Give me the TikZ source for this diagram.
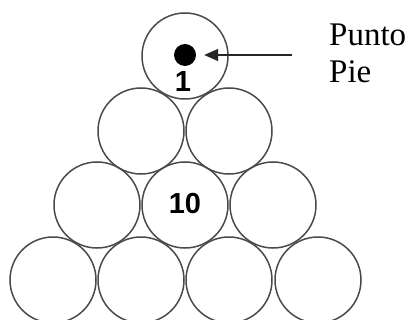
\documentclass[tikz,border=0pt]{standalone}
\usepackage{fontspec}
\setmainfont{Liberation Serif}
\newfontfamily\numfont{Liberation Sans}
\usetikzlibrary{arrows.meta}
\definecolor{ballgray}{HTML}{4A4A4A}
\tikzset{
  ball/.style={circle, draw=ballgray, line width=1.5pt, minimum size=86pt, inner sep=0pt},
  numlbl/.style={font=\numfont\bfseries\fontsize{29}{30}\selectfont, inner sep=0pt},
  side/.style={font=\fontsize{33}{38}\selectfont, anchor=base west, inner sep=0pt}
}
\begin{document}
\begin{tikzpicture}[x=1pt,y=-1pt]
\useasboundingbox (0,0) rectangle (411,320);
\node[ball] (b1) at (185,56) {};
\node[ball] (b2) at (141,131) {};
\node[ball] (b3) at (229,131) {};
\node[ball] (b4) at (97,205) {};
\node[ball] (b5) at (185,205) {};
\node[ball] (b6) at (273,205) {};
\node[ball] (b7) at (53,280) {};
\node[ball] (b8) at (141,280) {};
\node[ball] (b9) at (229,280) {};
\node[ball] (b10) at (318,280) {};
\node[circle, fill=black, minimum size=22pt, inner sep=0pt] (dot) at (185,55) {};
\node[numlbl] (n1) at (183,82) {1};
\node[numlbl] (n10) at (185,204) {10};
\coordinate (tail) at (292,55);
\draw[-{Triangle[length=14pt,width=12pt]}, line width=1.5pt, draw=black!85, shorten >=8pt] (tail) -- (dot);
\node[side] (t1) at (329,46) {Punto};
\node[side] (t2) at (329,83) {Pie};
\end{tikzpicture}
\end{document}
